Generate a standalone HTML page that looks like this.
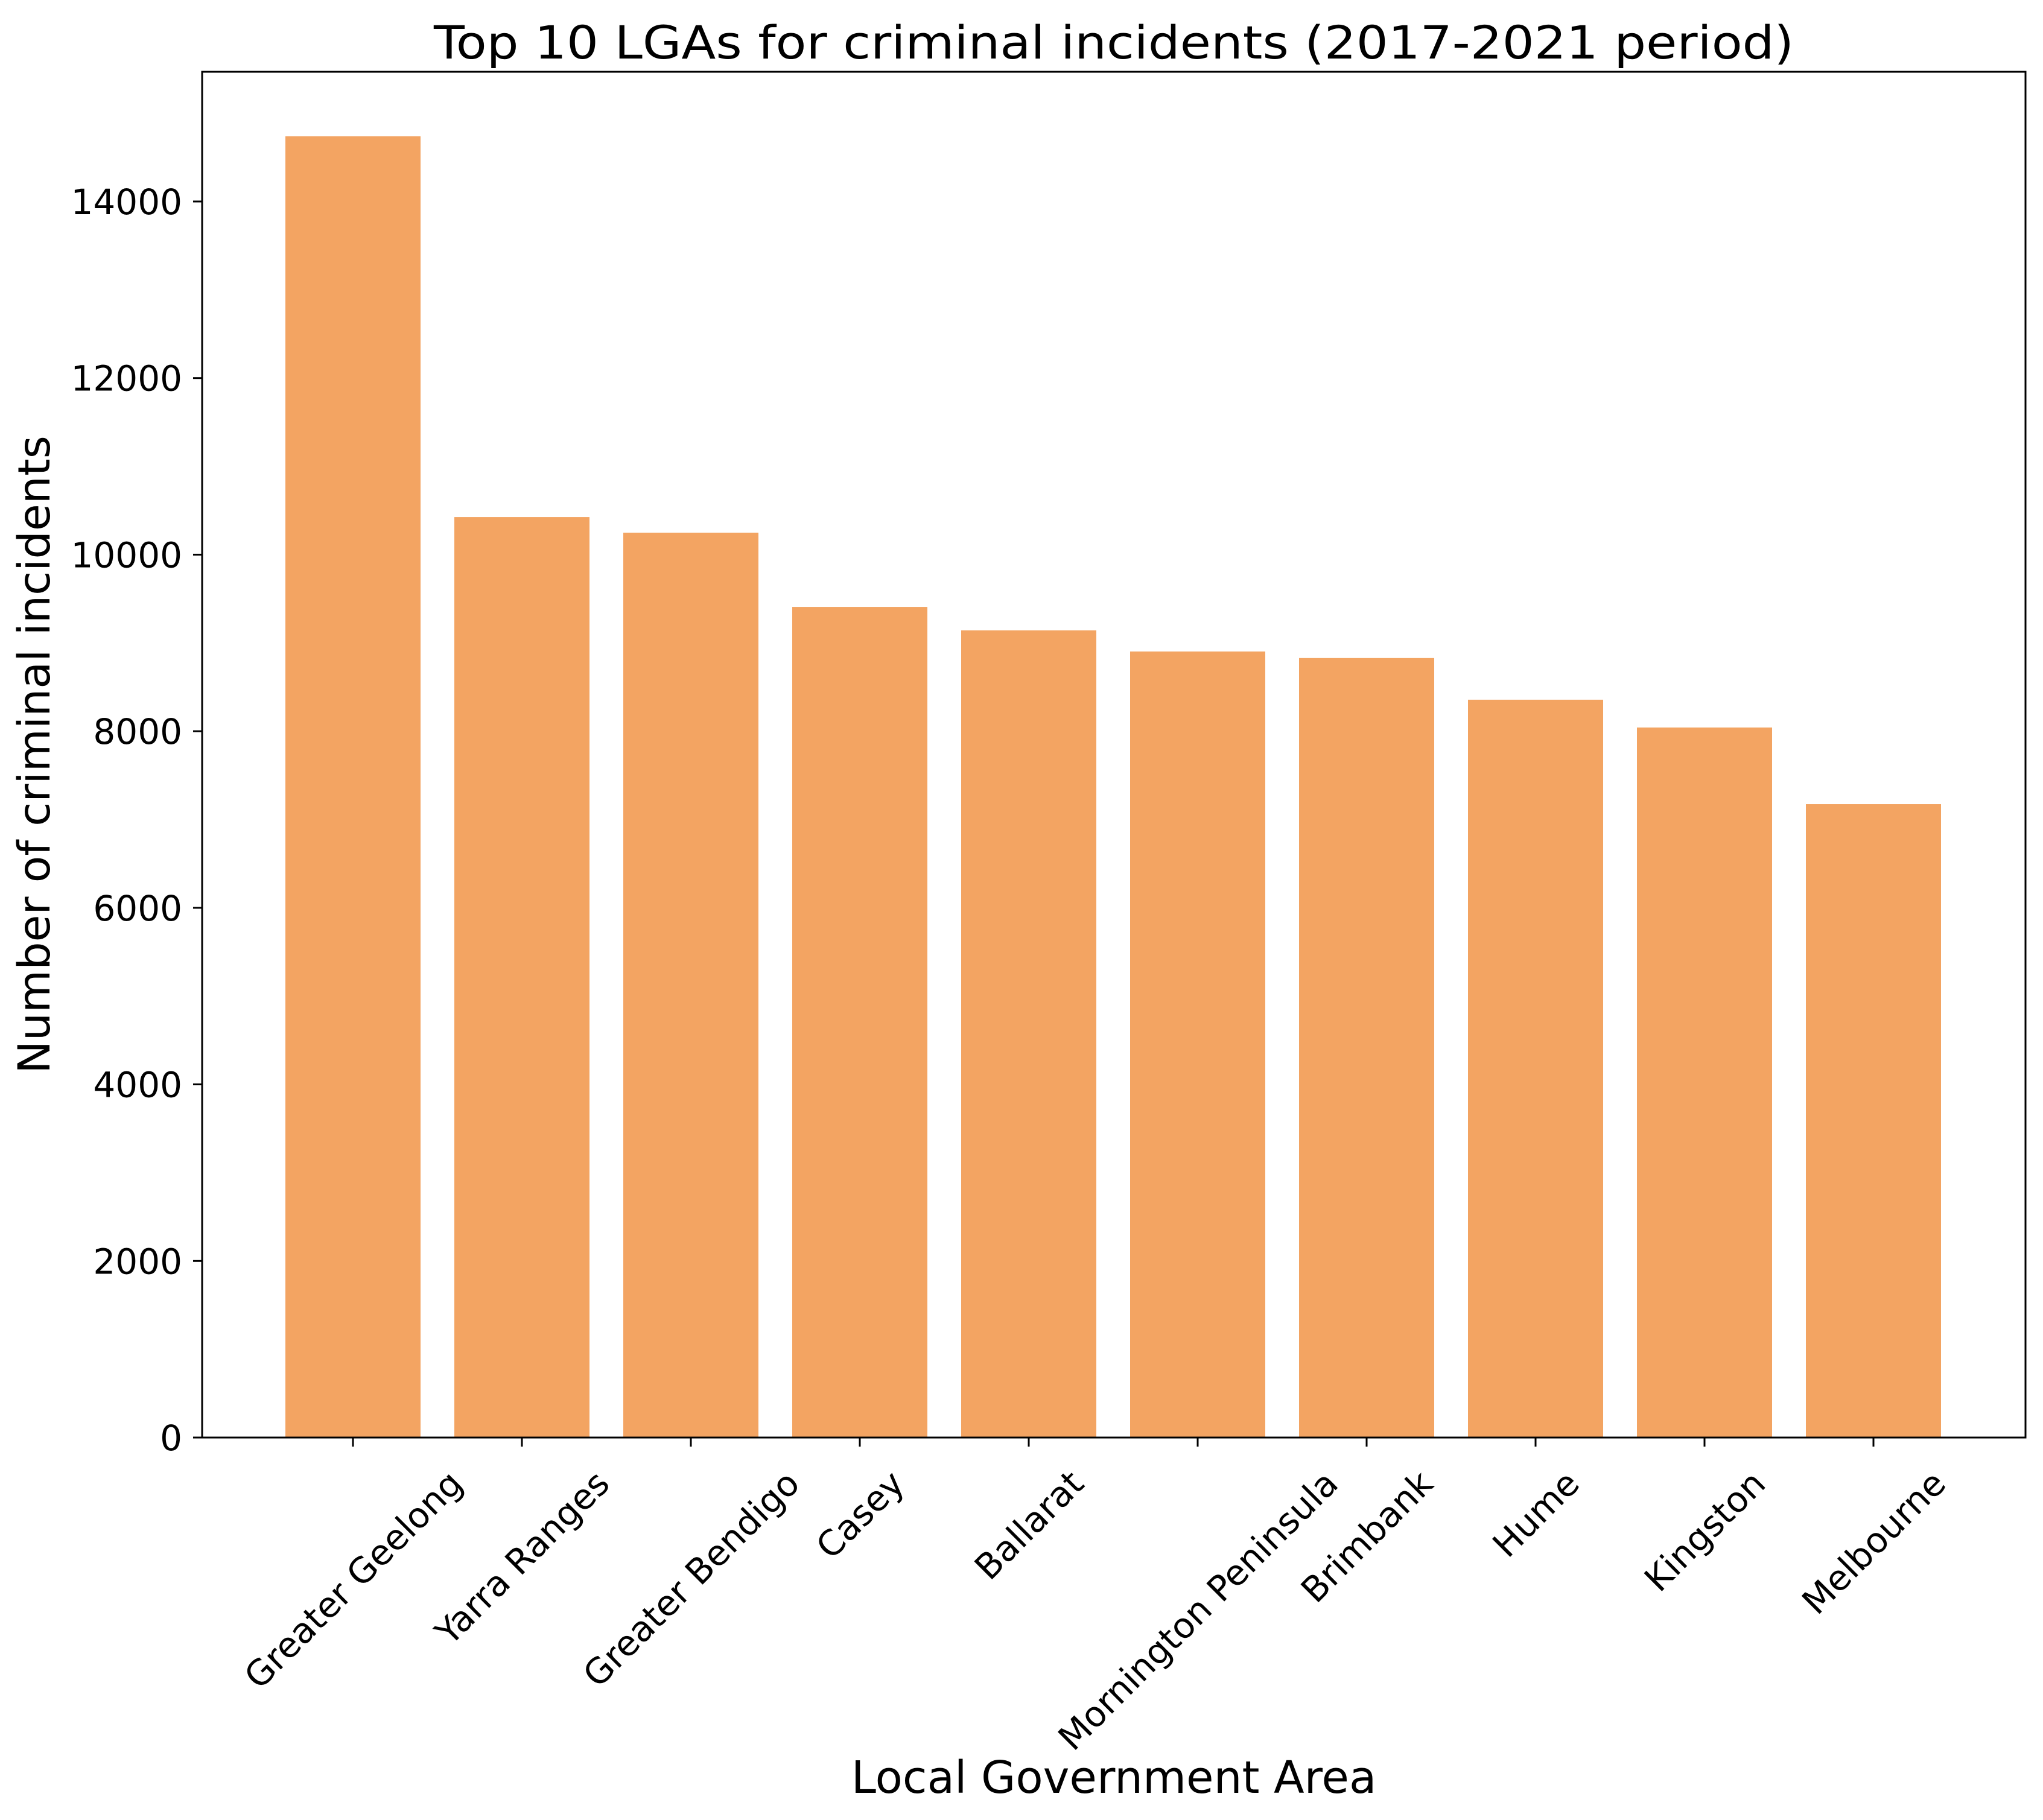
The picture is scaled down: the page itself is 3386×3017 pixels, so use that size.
<!DOCTYPE html>
<html><head><meta charset="utf-8"><style>
html,body{margin:0;padding:0;background:#fff;}
svg{display:block;font-family:"DejaVu Sans","Liberation Sans",sans-serif;}
</style></head><body>
<svg id="chart" width="3386" height="3017" viewBox="0 0 3386 3017" xmlns="http://www.w3.org/2000/svg">
<rect x="0" y="0" width="3386" height="3017" fill="#fff"/>
<g id="bars"></g>
<g id="yticks"></g>
<g id="xticks"></g>
<rect x="335" y="119" width="3022" height="2264" fill="none" stroke="#000" stroke-width="3"/>
<text x="1846" y="97" font-size="76" text-anchor="middle" textLength="2254" lengthAdjust="spacingAndGlyphs">Top 10 LGAs for criminal incidents (2017-2021 period)</text>
<text x="1846" y="2972" font-size="74" text-anchor="middle">Local Government Area</text>
<text transform="translate(82,1251) rotate(-90)" x="0" y="0" font-size="73" text-anchor="middle">Number of criminal incidents</text>
</svg>
<script>
const categories = ["Greater Geelong","Yarra Ranges","Greater Bendigo","Casey","Ballarat","Mornington Peninsula","Brimbank","Hume","Kingston","Melbourne"];
const values = [14738, 10426, 10249, 9408, 9142, 8903, 8829, 8357, 8042, 7174];
const yTicks = [0, 2000, 4000, 6000, 8000, 10000, 12000, 14000];
const yTickLabels = ["0","2000","4000","6000","8000","10000","12000","14000"];

const NS = "http://www.w3.org/2000/svg";
const plotL = 335, plotR = 3357, plotT = 119, plotB = 2383;
const xMin = -0.8929, xMax = 9.9;
const yMin = 0, yMax = 15469;
function xScale(i){ return plotL + (i - xMin) / (xMax - xMin) * (plotR - plotL); }
function yScale(v){ return plotB - (v - yMin) / (yMax - yMin) * (plotB - plotT); }
const band = xScale(1) - xScale(0);

const barsG = document.getElementById('bars');
values.forEach((v, i) => {
  const r = document.createElementNS(NS, 'rect');
  const w = band * 0.8;
  r.setAttribute('x', xScale(i) - w / 2);
  r.setAttribute('y', yScale(v));
  r.setAttribute('width', w);
  r.setAttribute('height', yScale(0) - yScale(v));
  r.setAttribute('fill', '#f3a462');
  
  
  barsG.appendChild(r);
});

const yG = document.getElementById('yticks');
yTicks.forEach((t, i) => {
  const y = yScale(t);
  const l = document.createElementNS(NS, 'line');
  l.setAttribute('x1', plotL - 15); l.setAttribute('x2', plotL);
  l.setAttribute('y1', y); l.setAttribute('y2', y);
  l.setAttribute('stroke', '#000'); l.setAttribute('stroke-width', '3');
  
  
  yG.appendChild(l);
  const tx = document.createElementNS(NS, 'text');
  tx.setAttribute('x', 302); tx.setAttribute('y', y + 21);
  tx.setAttribute('font-size', '58'); tx.setAttribute('text-anchor', 'end');
  tx.textContent = yTickLabels[i];
  
  
  yG.appendChild(tx);
});

const xG = document.getElementById('xticks');
categories.forEach((c, i) => {
  const x = xScale(i);
  const l = document.createElementNS(NS, 'line');
  l.setAttribute('x1', x); l.setAttribute('x2', x);
  l.setAttribute('y1', plotB); l.setAttribute('y2', plotB + 15);
  l.setAttribute('stroke', '#000'); l.setAttribute('stroke-width', '3');
  
  
  xG.appendChild(l);
  const tx = document.createElementNS(NS, 'text');
  tx.setAttribute('font-size', '58');
  tx.setAttribute('text-anchor', 'middle');
  tx.setAttribute('x', 0); tx.setAttribute('y', 21);
  tx.textContent = c;
  
  
  xG.appendChild(tx);
  const w = tx.getComputedTextLength();
  const h = 58 * 1.17;
  const rh = (w + h) / Math.SQRT2;
  const cy = plotB + 41 + rh / 2;
  tx.setAttribute('transform', 'translate(' + x + ',' + cy + ') rotate(-45)');
});
</script>
</body></html>
